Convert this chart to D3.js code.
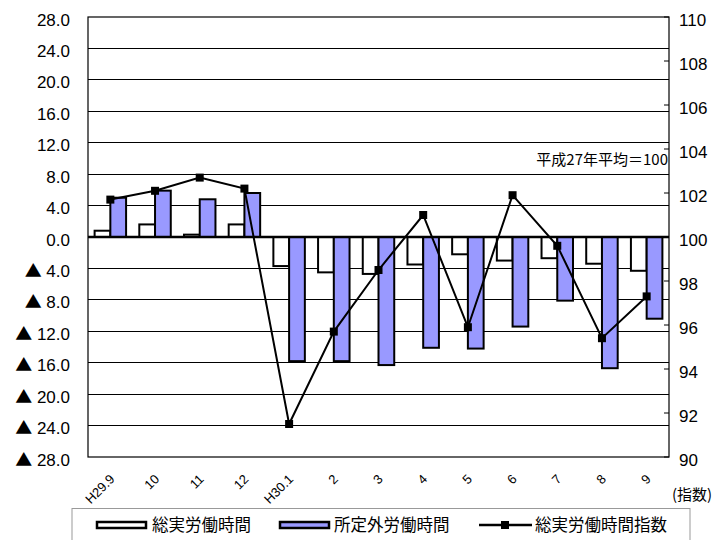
<!DOCTYPE html>
<html><head><meta charset="utf-8">
<script src="https://cdn.jsdelivr.net/npm/d3@7"></script>
<style>
body{margin:0;background:#fff;}
svg{display:block;}
</style></head>
<body>
<svg id="c" width="717" height="540"></svg>
<script>
const categories = ["H29.9","10","11","12","H30.1","2","3","4","5","6","7","8","9"];
const totalHours = [0.8,1.6,0.3,1.6,-3.7,-4.5,-4.7,-3.5,-2.2,-3.0,-2.7,-3.4,-4.3];
const overtimeHours = [5.0,5.9,4.8,5.6,-15.8,-15.8,-16.3,-14.1,-14.2,-11.4,-8.1,-16.7,-10.4];
const hoursIndex = [101.7,102.1,102.7,102.2,91.5,95.7,98.5,101.0,95.9,101.9,99.6,95.4,97.3];
const leftTicks = [28,24,20,16,12,8,4,0,-4,-8,-12,-16,-20,-24,-28];
const rightTicks = [90,92,94,96,98,100,102,104,106,108,110];
const seriesNames = ["総実労働時間","所定外労働時間","総実労働時間指数"];
const seriesKeys = ["total","overtime"];

const svg = d3.select("#c");
const L = 88, R = 669, T = 17, B = 457;
const numFont = "'Liberation Sans', Arial, sans-serif";
const jpFont = "'Noto Sans CJK JP', sans-serif";

const x = d3.scaleBand().domain(categories).range([L, R]).padding(0);
const x1 = d3.scaleBand().domain(seriesKeys).range([0, x.bandwidth()]).paddingInner(0).paddingOuter(0.42);
const y = d3.scaleLinear().domain([-28, 28]).range([B, T]);
const y2 = d3.scaleLinear().domain([90, 110]).range([B, T]);

// gridlines
svg.append("g").selectAll("line").data(leftTicks.filter(d => d !== 0 && d !== 28 && d !== -28)).join("line")
  .attr("x1", L).attr("x2", R).attr("y1", d => y(d)).attr("y2", d => y(d))
  .attr("stroke", "#000").attr("stroke-width", 1).attr("shape-rendering", "crispEdges");

// plot frame
svg.append("rect").attr("x", L).attr("y", T).attr("width", R - L).attr("height", B - T)
  .attr("fill", "none").attr("stroke", "#000").attr("stroke-width", 1.2);

// right axis inward ticks
svg.append("g").selectAll("line").data(rightTicks).join("line")
  .attr("x1", R - 5).attr("x2", R).attr("y1", d => y2(d)).attr("y2", d => y2(d))
  .attr("stroke", "#000").attr("stroke-width", 1);

// left labels
const ll = svg.append("g").selectAll("text").data(leftTicks).join("text")
  .attr("x", 70).attr("y", d => y(d)).attr("dy", "0.5em")
  .attr("text-anchor", "end").attr("font-family", numFont).attr("font-size", 17);
ll.filter(d => d < 0).append("tspan").attr("font-family", jpFont).attr("font-size", 17).text("▲");
ll.append("tspan").text(d => d < 0 ? " " + Math.abs(d).toFixed(1) : d.toFixed(1));

// right labels
svg.append("g").selectAll("text").data(rightTicks).join("text")
  .attr("x", 679).attr("y", d => y2(d)).attr("dy", "0.5em")
  .attr("font-family", numFont).attr("font-size", 17)
  .text(d => d);

// bars
const barData = categories.map((c, i) => ({c, total: totalHours[i], overtime: overtimeHours[i]}));
const fills = {total: "#ffffff", overtime: "#9999ff"};
seriesKeys.forEach(k => {
  svg.append("g").selectAll("rect").data(barData).join("rect")
    .attr("x", d => x(d.c) + x1(k))
    .attr("width", x1.bandwidth())
    .attr("y", d => y(Math.max(0, d[k])))
    .attr("height", d => Math.abs(y(d[k]) - y(0)))
    .attr("fill", fills[k]).attr("stroke", "#000").attr("stroke-width", 2);
});

// zero line
svg.append("line").attr("x1", L).attr("x2", R).attr("y1", y(0)).attr("y2", y(0))
  .attr("stroke", "#000").attr("stroke-width", 2.5);

// index line
const line = d3.line().x((d, i) => x(categories[i]) + x.bandwidth() / 2).y(d => y2(d));
svg.append("path").datum(hoursIndex).attr("d", line)
  .attr("fill", "none").attr("stroke", "#000").attr("stroke-width", 2);
svg.append("g").selectAll("rect").data(hoursIndex).join("rect")
  .attr("x", (d, i) => x(categories[i]) + x.bandwidth() / 2 - 4)
  .attr("y", d => y2(d) - 4).attr("width", 8).attr("height", 8).attr("fill", "#000");

// x labels
svg.append("g").selectAll("text").data(categories).join("text")
  .attr("transform", d => `translate(${x(d) + x.bandwidth() / 2 + 5},${480}) rotate(-45)`)
  .attr("text-anchor", "end").attr("font-family", numFont).attr("font-size", 13)
  .text(d => d);

// annotation
svg.append("text").attr("x", 668).attr("y", 165).attr("text-anchor", "end")
  .attr("font-family", jpFont).attr("font-size", 15).text("平成27年平均＝100");

// (指数)
svg.append("text").attr("x", 672).attr("y", 500)
  .attr("font-family", jpFont).attr("font-size", 15).text("(指数)");

// legend
svg.append("rect").attr("x", 72).attr("y", 508.5).attr("width", 618).attr("height", 40)
  .attr("fill", "#fff").attr("stroke", "#999").attr("stroke-width", 1);
const ly = 525;
const lg = svg.append("g");
const swatches = [{x: 97, fill: "#ffffff"}, {x: 280, fill: "#9999ff"}];
lg.selectAll("rect.sw").data(swatches).join("rect").attr("class", "sw")
  .attr("x", d => d.x).attr("y", ly - 3).attr("width", 49).attr("height", 6)
  .attr("fill", d => d.fill).attr("stroke", "#000").attr("stroke-width", 2.5);
lg.append("line").attr("x1", 479).attr("x2", 532).attr("y1", ly).attr("y2", ly)
  .attr("stroke", "#000").attr("stroke-width", 2.5);
lg.append("rect").attr("x", 501).attr("y", ly - 4).attr("width", 8).attr("height", 8).attr("fill", "#000");
const textX = [152, 334, 535];
lg.selectAll("text").data(seriesNames).join("text")
  .attr("x", (d, i) => textX[i]).attr("y", ly).attr("dy", "0.36em")
  .attr("font-family", jpFont).attr("font-size", 16.5).text(d => d);
</script>
</body></html>
